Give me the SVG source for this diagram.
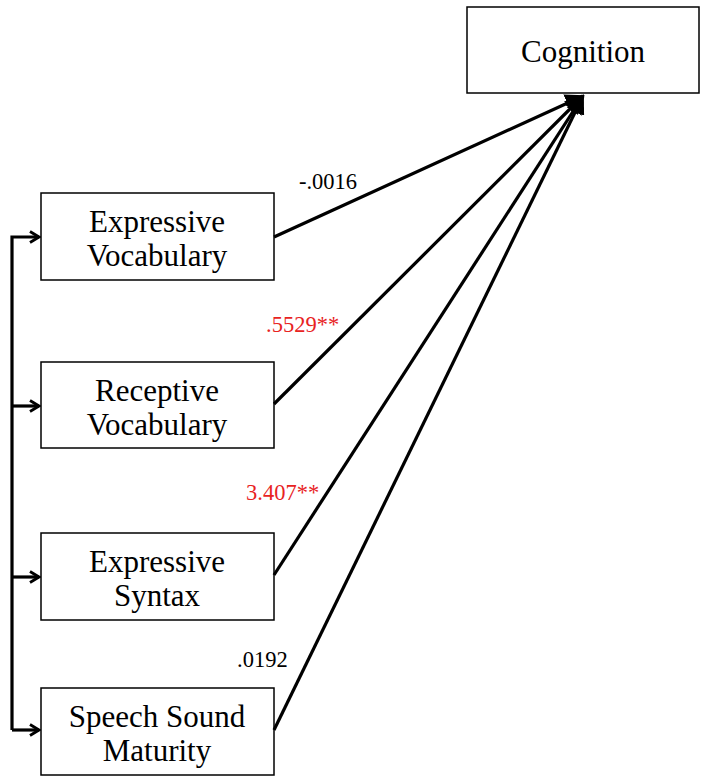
<svg xmlns="http://www.w3.org/2000/svg" width="708" height="784" viewBox="0 0 708 784">
<style>
.box{fill:#fff;stroke:#000;stroke-width:1.5}
.t{font-family:"Liberation Serif",serif;font-size:31px;fill:#000;text-anchor:middle}
.lbl{font-family:"Liberation Serif",serif;font-size:22.5px}
.c{fill:none;stroke:#000;stroke-width:3.2}
</style>
<defs>
<marker id="open" viewBox="0 0 14 14" refX="12" refY="7" markerWidth="14" markerHeight="14" markerUnits="userSpaceOnUse" orient="auto">
<polyline points="3,1.5 12,7 3,12.5" fill="none" stroke="#000" stroke-width="2.8"/>
</marker>
<marker id="solid" viewBox="0 0 10 10" refX="9" refY="5" markerWidth="6" markerHeight="6" orient="auto">
<path d="M0,0 L10,5 L0,10 z" fill="#000"/>
</marker>
</defs>
<rect width="708" height="784" fill="#fff"/>
<g id="cognition"><rect class="box" x="467" y="7" width="232" height="86"/><text class="t" x="583" y="62" font-size="33">Cognition</text></g>
<g id="expressive-vocabulary"><rect class="box" x="41" y="193" width="233" height="87"/><text class="t" x="157" y="232">Expressive</text><text class="t" x="157" y="266">Vocabulary</text></g>
<g id="receptive-vocabulary"><rect class="box" x="41" y="362" width="233" height="86"/><text class="t" x="157" y="401">Receptive</text><text class="t" x="157" y="435">Vocabulary</text></g>
<g id="expressive-syntax"><rect class="box" x="41" y="533" width="233" height="87"/><text class="t" x="157" y="572">Expressive</text><text class="t" x="157" y="606">Syntax</text></g>
<g id="speech-sound-maturity"><rect class="box" x="41" y="688" width="233" height="87"/><text class="t" x="157" y="727">Speech Sound</text><text class="t" x="157" y="761">Maturity</text></g>
<g id="connectors">
<line class="c" x1="274" y1="237" x2="583" y2="96" marker-end="url(#solid)"/>
<line class="c" x1="274" y1="404" x2="583" y2="96" marker-end="url(#solid)"/>
<line class="c" x1="274" y1="575" x2="583" y2="96" marker-end="url(#solid)"/>
<line class="c" x1="274" y1="730" x2="583" y2="96" marker-end="url(#solid)"/>
<polyline class="c" points="12,730 12,237 39,237" marker-end="url(#open)"/>
<line class="c" x1="12" y1="406" x2="39" y2="406" marker-end="url(#open)"/>
<line class="c" x1="12" y1="577" x2="39" y2="577" marker-end="url(#open)"/>
<line class="c" x1="12" y1="730" x2="39" y2="730" marker-end="url(#open)"/>
<text class="lbl" x="299" y="189" fill="#000">-.0016</text>
<text class="lbl" x="266" y="332" fill="#e8231f">.5529**</text>
<text class="lbl" x="246" y="500" fill="#e8231f">3.407**</text>
<text class="lbl" x="237" y="667" fill="#000">.0192</text>
</g>
</svg>
